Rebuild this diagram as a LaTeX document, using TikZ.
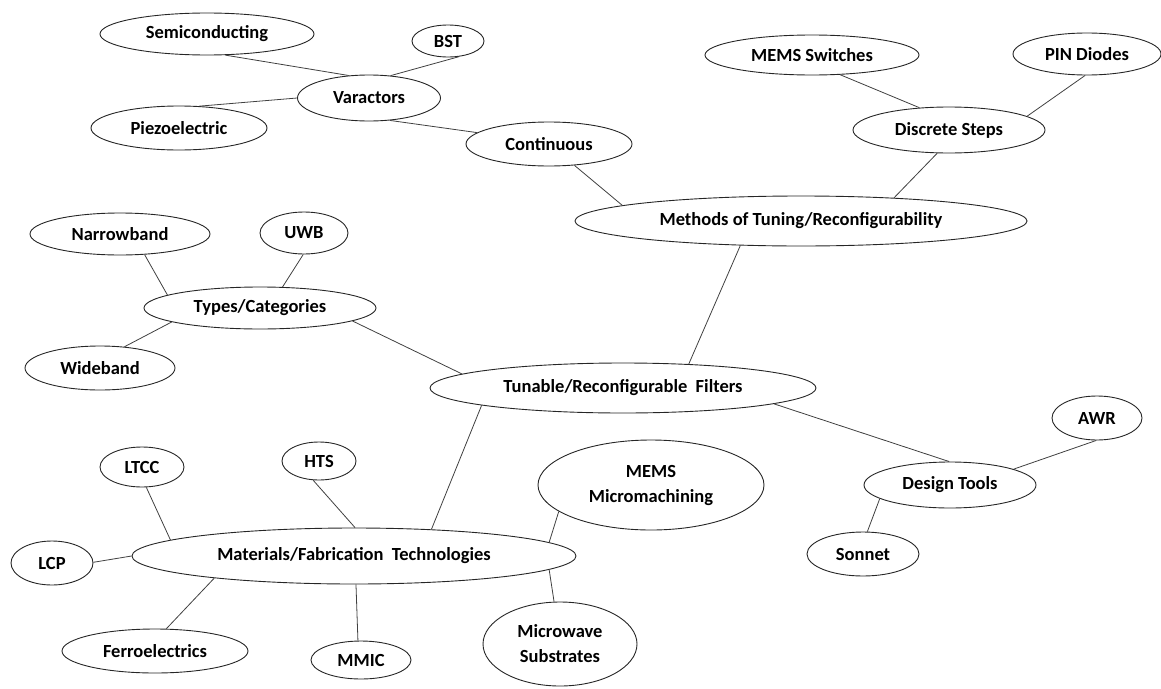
\documentclass[tikz,border=0pt]{standalone}
\usepackage{fontspec}
\setmainfont{Carlito}
\usetikzlibrary{shapes.geometric}
\begin{document}
\begin{tikzpicture}[x=1pt,y=-1pt,
  bub/.style={ellipse, draw=black!85, line width=0.9pt, inner sep=0pt,
    font=\bfseries\fontsize{18.5}{25}\selectfont, align=center},
  lk/.style={draw=black!75, line width=0.8pt}]
\useasboundingbox (0,0) rectangle (1161,688);
% nodes
\node[bub, minimum width=214pt, minimum height=42pt] (semi) at (207,34) {Semiconducting};
\node[bub, minimum width=72pt, minimum height=32pt] (bst) at (448,41) {BST};
\node[bub, minimum width=143pt, minimum height=46pt] (var) at (369,98) {Varactors};
\node[bub, minimum width=176pt, minimum height=44pt] (piezo) at (179,128) {Piezoelectric};
\node[bub, minimum width=166pt, minimum height=44pt] (cont) at (549,144) {Continuous};
\node[bub, minimum width=214pt, minimum height=40pt] (mems) at (812,55) {MEMS Switches};
\node[bub, minimum width=148pt, minimum height=42pt] (pin) at (1087,54) {PIN Diodes};
\node[bub, minimum width=192pt, minimum height=46pt] (disc) at (949,130) {Discrete Steps};
\node[bub, minimum width=452pt, minimum height=50pt] (meth) at (801,221) {Methods of Tuning/Reconfigurability};
\node[bub, minimum width=180pt, minimum height=42pt] (narrow) at (120,234) {Narrowband};
\node[bub, minimum width=88pt, minimum height=42pt] (uwb) at (304,233) {UWB};
\node[bub, minimum width=232pt, minimum height=42pt] (types) at (260,308) {Types/Categories};
\node[bub, minimum width=150pt, minimum height=44pt] (wide) at (100,368) {Wideband};
\node[bub, minimum width=386pt, minimum height=50pt] (tun) at (623,388) {Tunable/Reconfigurable\ \ Filters};
\node[bub, minimum width=90pt, minimum height=44pt] (awr) at (1097,418) {AWR};
\node[bub, minimum width=172pt, minimum height=46pt] (design) at (950,485) {Design Tools};
\node[bub, minimum width=112pt, minimum height=44pt] (sonnet) at (863,554) {Sonnet};
\node[bub, minimum width=226pt, minimum height=90pt] (mmach) at (651,485) {MEMS\\Micromachining};
\node[bub, minimum width=84pt, minimum height=40pt] (ltcc) at (142,467) {LTCC};
\node[bub, minimum width=74pt, minimum height=38pt] (hts) at (319,461) {HTS};
\node[bub, minimum width=82pt, minimum height=44pt] (lcp) at (52,563) {LCP};
\node[bub, minimum width=444pt, minimum height=56pt] (mat) at (354,556) {Materials/Fabrication\ \ Technologies};
\node[bub, minimum width=186pt, minimum height=44pt] (ferro) at (155,651) {Ferroelectrics};
\node[bub, minimum width=100pt, minimum height=38pt] (mmic) at (361,660) {MMIC};
\node[bub, minimum width=154pt, minimum height=84pt] (msub) at (560,644) {Microwave\\Substrates};
% connectors
\draw[lk] (semi.-49.4) -- (var.132.4);
\draw[lk] (bst.-55.5) -- (var.46.3);
\draw[lk] (piezo.47.9) -- (var.180);
\draw[lk] (var.-47.5) -- (cont.171.5);
\draw[lk] (cont.-40.4) -- (meth.175.2);
\draw[lk] (mems.-35.5) -- (disc.143.4);
\draw[lk] (pin.-95.4) -- (disc.10.8);
\draw[lk] (disc.-117.6) -- (meth.14.9);
\draw[lk] (meth.-158.8) -- (tun.20.9);
\draw[lk] (narrow.-40) -- (types.172.2);
\draw[lk] (uwb.-92.4) -- (types.43.7);
\draw[lk] (wide.41.2) -- (types.-171.7);
\draw[lk] (types.-8) -- (tun.175.8);
\draw[lk] (tun.-173.4) -- (mat.19.5);
\draw[lk] (tun.-6.9) -- (design.92.5);
\draw[lk] (awr.-92.6) -- (design.14.7);
\draw[lk] (design.-169.9) -- (sonnet.79.7);
\draw[lk] (mmach.-164.4) -- (mat.4.3);
\draw[lk] (mat.-4.9) -- (msub.98.1);
\draw[lk] (ltcc.-78.7) -- (mat.175.8);
\draw[lk] (hts.-107.5) -- (mat.88);
\draw[lk] (lcp.1.4) -- (mat.180);
\draw[lk] (ferro.63.4) -- (mat.-171.3);
\draw[lk] (mmic.99) -- (mat.-86);
\end{tikzpicture}
\end{document}
